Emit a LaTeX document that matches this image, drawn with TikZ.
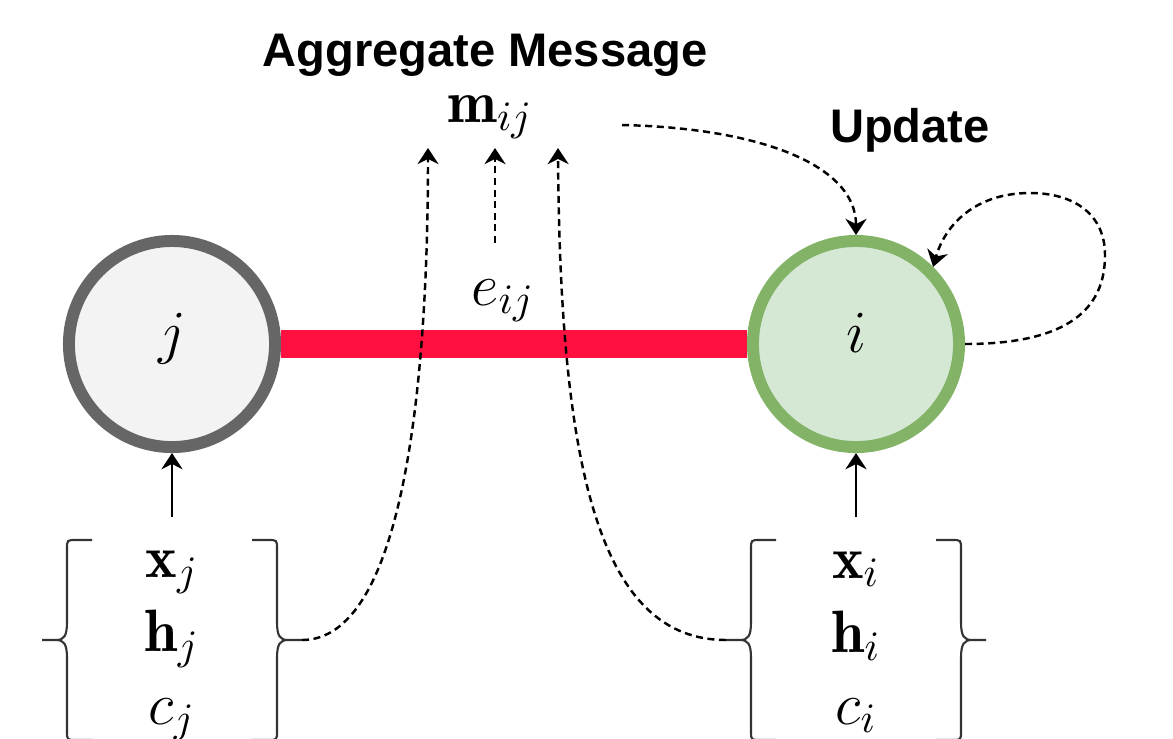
\RequirePackage{fix-cm}
\documentclass[tikz,border=0pt]{standalone}
\usepackage{fontspec}
\newfontfamily\labelfont{Liberation Sans}
\usetikzlibrary{arrows.meta}
\definecolor{edgered}{RGB}{255,16,64}
\definecolor{jfill}{RGB}{243,243,243}
\definecolor{jline}{RGB}{102,102,102}
\definecolor{ifill}{RGB}{213,232,212}
\definecolor{iline}{RGB}{130,179,102}
\begin{document}
\begin{tikzpicture}[x=0.01cm,y=-0.01cm,font=\fontsize{17}{20}\selectfont,
  >={Stealth[length=4.6pt,width=6pt]},
  vertex/.style={draw,circle,line width=3.4pt,minimum size=2.06cm,inner sep=0pt,text height=0.7em,text depth=0.2em},
  title/.style={anchor=base,inner sep=0pt,font=\labelfont\bfseries\fontsize{13.4}{16}\selectfont},
  lbl/.style={anchor=base,inner sep=0pt},
  edge/.style={draw=edgered,line width=8pt},
  flow/.style={->,line width=0.7pt,dash pattern=on 2pt off 1.3pt},
  feed/.style={->,line width=0.7pt},
  brace/.style={line width=0.6pt,draw=black!80}]
\useasboundingbox (0,0) rectangle (1173,738);

\node[vertex,draw=jline,fill=jfill] (j) at (172,344) {$j$};
\node[vertex,draw=iline,fill=ifill] (i) at (856,344) {$i$};
\path[edge] (j) -- (i);

\node[title] (agg) at (485,66) {Aggregate Message};
\node[lbl] (mij) at (490,122) {$\mathbf{m}_{ij}$};
\node[title] (upd) at (910,142) {Update};
\node[lbl] (eij) at (503,305) {$e_{ij}$};

\node[lbl] (xj) at (172,577) {$\mathbf{x}_j$};
\node[lbl] (hj) at (172,651) {$\mathbf{h}_j$};
\node[lbl] (cj) at (172,724) {$c_j$};
\node[lbl] (xi) at (856,578) {$\mathbf{x}_i$};
\node[lbl] (hi) at (856,652) {$\mathbf{h}_i$};
\node[lbl] (ci) at (856,724) {$c_i$};

\foreach \cx in {172,856}
  \foreach \side in {-1,1}
    \draw[brace] ({\cx+\side*80},540) -- ({\cx+\side*96},540) .. controls ({\cx+\side*105},540) .. ({\cx+\side*105},549)
      -- ({\cx+\side*105},622) .. controls ({\cx+\side*105},636) and ({\cx+\side*108},640) .. ({\cx+\side*116},640)
      -- ({\cx+\side*130},640)
      ({\cx+\side*116},640) .. controls ({\cx+\side*108},640) and ({\cx+\side*105},644) .. ({\cx+\side*105},658)
      -- ({\cx+\side*105},731) .. controls ({\cx+\side*105},740) .. ({\cx+\side*96},740) -- ({\cx+\side*80},740);

\coordinate (bj) at (302,640);
\coordinate (bi) at (726,640);
\coordinate (ta) at (428,148);
\coordinate (tb) at (495,148);
\coordinate (tc) at (558,148);
\coordinate (sb) at (495,243);
\coordinate (mout) at (622,125);
\coordinate (sj) at (172,517);
\coordinate (si) at (856,517);

\draw[flow] (bj) .. controls (400,640) and (428,400) .. (ta);
\draw[flow] (bi) .. controls (600,640) and (560,470) .. (tc);
\draw[flow] (sb) -- (tb);
\draw[flow] (mout) .. controls (760,128) and (856,165) .. (i.north);
\draw[flow] (i.east) .. controls (1080,344) and (1105,300) .. (1105,255)
  .. controls (1105,215) and (1075,193) .. (1030,193)
  .. controls (975,193) and (945,225) .. (i.45);

\draw[feed] (sj) -- (j);
\draw[feed] (si) -- (i);
\end{tikzpicture}
\end{document}
